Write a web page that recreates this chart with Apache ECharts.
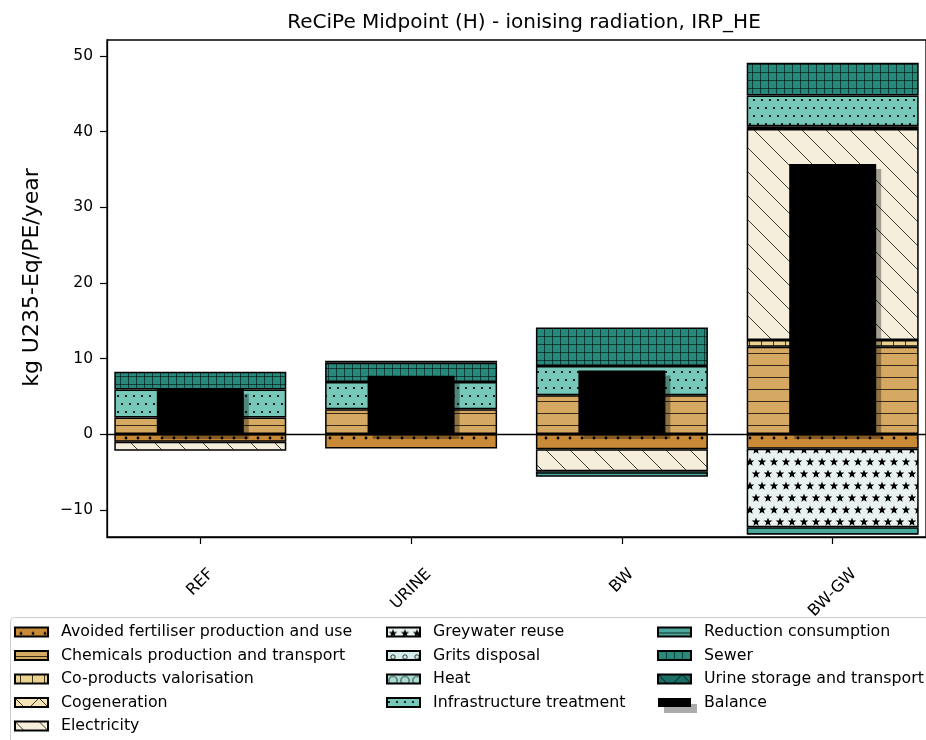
<!DOCTYPE html>
<html>
<head>
<meta charset="utf-8">
<script src="https://cdn.jsdelivr.net/npm/echarts@6/dist/echarts.min.js"></script>
<style>html,body{margin:0;padding:0;background:#fff}#c{width:926px;height:740px}</style>
</head>
<body>
<div id="c"></div>
<script>
// ---- data ----
const categories = ['REF', 'URINE', 'BW', 'BW-GW'];
const avoidedFertiliser = [-1.0, -1.9, -2.0, -1.95];
const chemicals = [2.2, 3.3, 5.15, 11.55];
const coProducts = [null, null, null, 0.9];
const cogeneration = [null, null, null, null];
const electricity = [-1.2, null, -2.9, 27.9];
const greywaterReuse = [null, null, null, -10.35];
const gritsDisposal = [null, null, null, null];
const heat = [null, null, null, 0.35];
const infrastructure = [3.7, 3.6, 3.85, 4.05];
const reductionConsumption = [null, null, -0.75, -1.0];
const sewer = [2.35, 2.55, 5.1, 4.35];
const urineStorage = [null, 0.25, null, null];
const balance = [6.0, 7.7, 8.4, 35.7];
const yTicks = [-10, 0, 10, 20, 30, 40, 50];
const xTicks = [0, 1, 2, 3];

// ---- hatch patterns ----
const INK = 'rgba(0,0,0,0.75)';
function pat(bg, w, h, draw) {
  const c = document.createElement('canvas');
  c.width = w; c.height = h;
  const ctx = c.getContext('2d');
  ctx.fillStyle = bg; ctx.fillRect(0, 0, w, h);
  ctx.strokeStyle = INK; ctx.fillStyle = '#000'; ctx.lineWidth = 1;
  draw(ctx, w, h);
  return { image: c, repeat: 'repeat' };
}
function line(ctx, x1, y1, x2, y2) { ctx.beginPath(); ctx.moveTo(x1, y1); ctx.lineTo(x2, y2); ctx.stroke(); }
function diagBack(ctx, s) { for (let k = -1; k <= 1; k++) line(ctx, -2, -2 + k * s, s + 2, s + 2 + k * s); }
function diagFwd(ctx, s) { for (let k = -1; k <= 1; k++) line(ctx, -2, s + 2 + k * s, s + 2, -2 + k * s); }
function dot(ctx, x, y, r) { ctx.beginPath(); ctx.arc(x, y, r, 0, Math.PI * 2); ctx.fill(); }
function ring(ctx, x, y, r) { ctx.beginPath(); ctx.arc(x, y, r, 0, Math.PI * 2); ctx.stroke(); }
function star(ctx, cx, cy, R) {
  const r = R * 0.42; ctx.beginPath();
  for (let i = 0; i < 10; i++) {
    const a = -Math.PI / 2 + i * Math.PI / 5, rr = i % 2 ? r : R;
    const x = cx + rr * Math.cos(a), y = cy + rr * Math.sin(a);
    i ? ctx.lineTo(x, y) : ctx.moveTo(x, y);
  }
  ctx.closePath(); ctx.fill();
}
const P = {
  avoided: pat('#c98a37', 12, 12, (c) => dot(c, 6, 6, 1.4)),
  chemicals: pat('#d5a962', 12, 12, (c) => line(c, 0, 5.5, 12, 5.5)),
  coproducts: pat('#ebd38f', 12, 12, (c) => line(c, 5.5, 0, 5.5, 12)),
  cogeneration: pat('#f4e4b8', 24, 24, (c) => { diagBack(c, 24); diagFwd(c, 24); }),
  electricity: pat('#f4eedb', 24, 24, (c) => diagBack(c, 24)),
  greywater: pat('#e9f1f1', 12, 24, (c) => { star(c, 6, 6, 4.5); star(c, 0, 18, 4.5); star(c, 12, 18, 4.5); }),
  grits: pat('#d6eeea', 12, 12, (c) => ring(c, 6, 6, 2.2)),
  heat: pat('#a9dcd3', 12, 12, (c) => ring(c, 6, 6, 4.2)),
  infra: pat('#77c8b8', 8, 16, (c) => { dot(c, 2, 4, 1.1); dot(c, 6, 12, 1.1); }),
  reduction: pat('#48a89b', 12, 12, (c) => line(c, 0, 5.5, 12, 5.5)),
  sewer: pat('#26897b', 8, 8, (c) => { c.strokeStyle = 'rgba(0,0,0,0.55)'; line(c, 0.5, 0, 0.5, 8); line(c, 0, 0.5, 8, 0.5); }),
  urine: pat('#1c6f64', 24, 24, (c) => { diagBack(c, 24); diagFwd(c, 24); })
};

const FONT = 'DejaVu Sans';
const FS = 15.5;
const XFS = 16;
const defs = [
  ['Avoided fertiliser production and use', avoidedFertiliser, P.avoided],
  ['Chemicals production and transport', chemicals, P.chemicals],
  ['Co-products valorisation', coProducts, P.coproducts],
  ['Cogeneration', cogeneration, P.cogeneration],
  ['Electricity', electricity, P.electricity],
  ['Greywater reuse', greywaterReuse, P.greywater],
  ['Grits disposal', gritsDisposal, P.grits],
  ['Heat', heat, P.heat],
  ['Infrastructure treatment', infrastructure, P.infra],
  ['Reduction consumption', reductionConsumption, P.reduction],
  ['Sewer', sewer, P.sewer],
  ['Urine storage and transport', urineStorage, P.urine]
];

// value first so that the stack is computed on the y dimension
const series = defs.map(([name, vals, color], si) => {
  const s = {
    name, type: 'bar', stack: 'total', xAxisIndex: 0, yAxisIndex: 0,
    barWidth: 172,
    encode: { x: 1, y: 0 },
    data: vals.map((v, i) => [v === null ? '-' : v, i]),
    itemStyle: { color, borderColor: '#000', borderWidth: 1.5 },
    emphasis: { disabled: true }
  };
  if (si === 0) {
    s.markLine = {
      silent: true, symbol: 'none', label: { show: false },
      lineStyle: { color: '#000', width: 1.3, type: 'solid' },
      data: [{ yAxis: 0 }]
    };
  }
  return s;
});
series.push({
  name: 'Balance', type: 'bar', xAxisIndex: 1, yAxisIndex: 0, barWidth: 87, z: 5,
  encode: { x: 1, y: 0 },
  data: balance.map((v, i) => [v, i]),
  itemStyle: { color: '#000', shadowColor: 'rgba(0,0,0,0.33)', shadowOffsetX: 5, shadowOffsetY: 5, shadowBlur: 0 },
  emphasis: { disabled: true }
});

const names = defs.map(d => d[0]);
const legendBase = {
  orient: 'vertical', top: 624, itemWidth: 33, itemHeight: 9, itemGap: 7.5, padding: 0,
  icon: 'rect', selectedMode: false,
  textStyle: { fontFamily: FONT, fontSize: 15.8, color: '#000', lineHeight: 16, padding: [0, 0, 0, 8] }
};

// x tick labels: rotated 45 deg, bounding box centred under the tick (rich padding shifts them straight down)
const mctx = document.createElement('canvas').getContext('2d');
mctx.font = XFS + 'px "' + FONT + '"';
const LABEL_MARGIN = 34;
const rich = {};
categories.forEach((t, i) => {
  const w = mctx.measureText(t).width;
  const off = 28 + (w + XFS * 1.16) * 0.3536;
  const s = Math.max(0, off - LABEL_MARGIN);
  rich['c' + i] = { fontFamily: FONT, fontSize: XFS, color: '#000', padding: [s * 1.414, s * 1.414, 0, 0] };
});

const xBase = { type: 'value', min: -0.4426, max: 3.4426 };

const option = {
  animation: false,
  backgroundColor: '#fff',
  title: {
    text: 'ReCiPe Midpoint (H) - ionising radiation, IRP_HE',
    left: 519, top: 8, textAlign: 'center',
    textStyle: { fontFamily: FONT, fontSize: 20, fontWeight: 'normal', color: '#000' }
  },
  grid: { left: 107, top: 40, width: 829.5, height: 497, show: true, borderColor: '#000', borderWidth: 1.3, backgroundColor: 'transparent' },
  xAxis: [
    Object.assign({}, xBase, {
      axisLine: { show: true, onZero: false, lineStyle: { color: '#000', width: 1.3 } },
      axisTick: { show: true, length: 7, lineStyle: { color: '#000', width: 1.2 }, customValues: xTicks },
      axisLabel: {
        customValues: xTicks, rotate: 45, margin: LABEL_MARGIN, align: 'center', verticalAlign: 'middle',
        fontFamily: FONT, fontSize: XFS, color: '#000',
        formatter: (v) => { const i = Math.round(v); return '{c' + i + '|' + categories[i] + '}'; },
        rich
      },
      splitLine: { show: false }
    }),
    Object.assign({}, xBase, { show: false, splitLine: { show: false } })
  ],
  yAxis: {
    type: 'value', min: -13.6, max: 52.1,
    name: 'kg U235-Eq/PE/year', nameLocation: 'middle', nameGap: 64,
    nameTextStyle: { fontFamily: FONT, fontSize: 22, color: '#000', padding: [0, 0, 0, 22] },
    axisLine: { show: true, onZero: false, lineStyle: { color: '#000', width: 1.3 } },
    axisTick: { show: true, length: 7, lineStyle: { color: '#000', width: 1.2 }, customValues: yTicks },
    axisLabel: {
      customValues: yTicks, fontFamily: FONT, fontSize: FS, color: '#000', margin: 14,
      formatter: (v) => (v < 0 ? '\u2212' + Math.abs(v) : String(v))
    },
    splitLine: { show: false }
  },
  legend: [
    Object.assign({}, legendBase, { left: 14, data: names.slice(0, 5) }),
    Object.assign({}, legendBase, { left: 386, data: names.slice(5, 9) }),
    Object.assign({}, legendBase, { left: 657, data: names.slice(9, 12).concat([{
      name: 'Balance',
      itemStyle: { color: '#000', shadowColor: 'rgba(0,0,0,0.33)', shadowOffsetX: 6, shadowOffsetY: 6, shadowBlur: 0 }
    }]) })
  ],
  graphic: [{
    type: 'rect', z: -1, silent: true,
    shape: { x: 10.5, y: 617.5, width: 1000, height: 300, r: 4 },
    style: { fill: '#fff', stroke: '#cccccc', lineWidth: 1 }
  }],
  series
};

const chart = echarts.init(document.getElementById('c'), null, { renderer: 'canvas' });
chart.setOption(option);
</script>
</body>
</html>
